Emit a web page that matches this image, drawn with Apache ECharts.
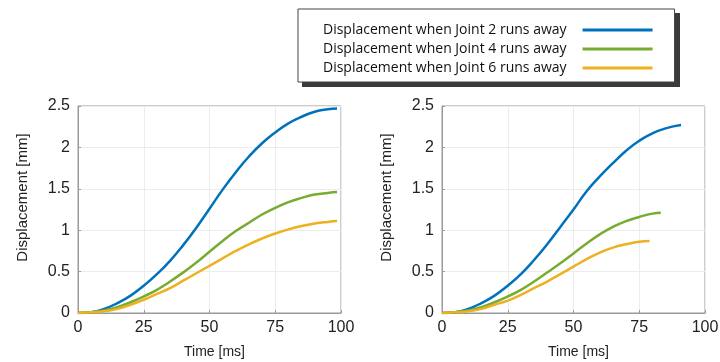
<!DOCTYPE html>
<html>

<head>
	<meta charset="utf-8" />
	<title></title>
	<script type="text/javascript" src="https://cdn.jsdelivr.net/npm/echarts@6/dist/echarts.min.js"></script>
</head>

<body style="margin:0;background:#fff;">
	<div id="main" style="width: 720px;height:362px;"></div>
</body>
<script>
	// legend names
	var names = ['Displacement when Joint 2 runs away', 'Displacement when Joint 4 runs away', 'Displacement when Joint 6 runs away'];
	var colors = ['#0072BD', '#77AC30', '#EDB120'];
	var xTicks = [0, 25, 50, 75, 100];
	var yTicks = [0, 0.5, 1, 1.5, 2, 2.5];

	// left chart, time [ms]
	var timeL = [0, 5, 10, 15, 20, 25, 30, 35, 40, 45, 50, 55, 60, 65, 70, 75, 80, 85, 90, 95, 98.5];
	var joint2L = [0, 0.01, 0.05, 0.12, 0.21, 0.33, 0.47, 0.63, 0.82, 1.03, 1.26, 1.49, 1.70, 1.89, 2.05, 2.18, 2.29, 2.37, 2.43, 2.46, 2.47];
	var joint4L = [0, 0.01, 0.03, 0.07, 0.13, 0.20, 0.28, 0.38, 0.49, 0.61, 0.74, 0.87, 0.99, 1.09, 1.19, 1.27, 1.34, 1.39, 1.43, 1.45, 1.46];
	var joint6L = [0, 0.01, 0.02, 0.05, 0.10, 0.16, 0.23, 0.30, 0.39, 0.48, 0.57, 0.66, 0.75, 0.83, 0.90, 0.96, 1.01, 1.05, 1.08, 1.10, 1.11];

	// right chart, each curve stops at its own time
	var time2R = [0, 5, 10, 15, 20, 25, 30, 35, 40, 45, 50, 55, 60, 65, 70, 75, 80, 85, 90.9];
	var joint2R = [0, 0.01, 0.05, 0.12, 0.21, 0.33, 0.47, 0.64, 0.83, 1.04, 1.25, 1.47, 1.65, 1.81, 1.96, 2.08, 2.17, 2.23, 2.27];
	var time4R = [0, 5, 10, 15, 20, 25, 30, 35, 40, 45, 50, 55, 60, 65, 70, 75, 80, 83.2];
	var joint4R = [0, 0.01, 0.03, 0.07, 0.13, 0.20, 0.28, 0.38, 0.49, 0.60, 0.72, 0.84, 0.95, 1.04, 1.11, 1.16, 1.20, 1.21];
	var time6R = [0, 5, 10, 15, 20, 25, 30, 35, 40, 45, 50, 55, 60, 65, 70, 75, 78.9];
	var joint6R = [0, 0.01, 0.02, 0.05, 0.10, 0.15, 0.22, 0.30, 0.38, 0.47, 0.56, 0.65, 0.73, 0.79, 0.83, 0.86, 0.87];

	function pairs(t, v) {
		return t.map(function (x, i) { return [x, v[i]]; });
	}

	function makeX(idx) {
		return {
			type: 'value', gridIndex: idx,
			min: xTicks[0], max: xTicks[xTicks.length - 1], interval: xTicks[1] - xTicks[0],
			name: 'Time [ms]', nameLocation: 'middle', nameGap: 32,
			nameTextStyle: { fontFamily: 'Liberation Sans', fontSize: 14, color: '#222', padding: [0, 0, 0, 10] },
			axisLine: { lineStyle: { color: '#9a9a9a' } },
			axisTick: { inside: true, length: 3, lineStyle: { color: '#9a9a9a' } },
			axisLabel: { margin: 7, fontFamily: 'Liberation Sans', fontSize: 16, color: '#222' },
			splitLine: { lineStyle: { color: '#ececec' } }
		};
	}

	function makeY(idx) {
		return {
			type: 'value', gridIndex: idx,
			min: yTicks[0], max: yTicks[yTicks.length - 1], interval: yTicks[1] - yTicks[0],
			name: 'Displacement [mm]', nameLocation: 'middle', nameGap: 48,
			nameTextStyle: { fontFamily: 'Liberation Sans', fontSize: 15, color: '#222', padding: [0, 0, 0, 24] },
			axisLine: { show: true, lineStyle: { color: '#9a9a9a' } },
			axisTick: { show: true, inside: true, length: 3, lineStyle: { color: '#9a9a9a' } },
			axisLabel: { margin: 8, fontFamily: 'Liberation Sans', fontSize: 16, color: '#222' },
			splitLine: { lineStyle: { color: '#ececec' } }
		};
	}

	function line(i, idx, data) {
		return {
			name: names[i], type: 'line', xAxisIndex: idx, yAxisIndex: idx,
			data: data, smooth: true, showSymbol: false, animation: false,
			lineStyle: { width: 2.5, color: colors[i] }, itemStyle: { color: colors[i] }
		};
	}

	var myChart = echarts.init(document.getElementById('main'));
	var option = {
		animation: false,
		// drop shadow behind the legend box
		graphic: [{
			type: 'rect', left: 302, top: 13, z: 0,
			shape: { width: 378, height: 74 },
			style: { fill: '#3a3a3a' }
		}],
		legend: {
			orient: 'vertical', left: 298, top: 9, align: 'right', z: 10,
			padding: [14, 22, 7, 25], itemGap: 5, itemWidth: 70, itemHeight: 3, icon: 'rect',
			backgroundColor: '#fff', borderColor: '#444', borderWidth: 1,
			textStyle: { fontFamily: 'Open Sans', fontSize: 14, color: '#111', padding: [0, 11, 0, 0] },
			data: names
		},
		grid: [
			{ left: 78, top: 106, width: 263, height: 207, show: true, borderColor: '#9a9a9a', borderWidth: 1, outerBoundsMode: 'none', containLabel: false },
			{ left: 442, top: 106, width: 263, height: 207, show: true, borderColor: '#9a9a9a', borderWidth: 1, outerBoundsMode: 'none', containLabel: false }
		],
		xAxis: [makeX(0), makeX(1)],
		yAxis: [makeY(0), makeY(1)],
		series: [
			line(0, 0, pairs(timeL, joint2L)),
			line(1, 0, pairs(timeL, joint4L)),
			line(2, 0, pairs(timeL, joint6L)),
			line(0, 1, pairs(time2R, joint2R)),
			line(1, 1, pairs(time4R, joint4R)),
			line(2, 1, pairs(time6R, joint6R))
		]
	};
	myChart.setOption(option);
</script>

</html>
